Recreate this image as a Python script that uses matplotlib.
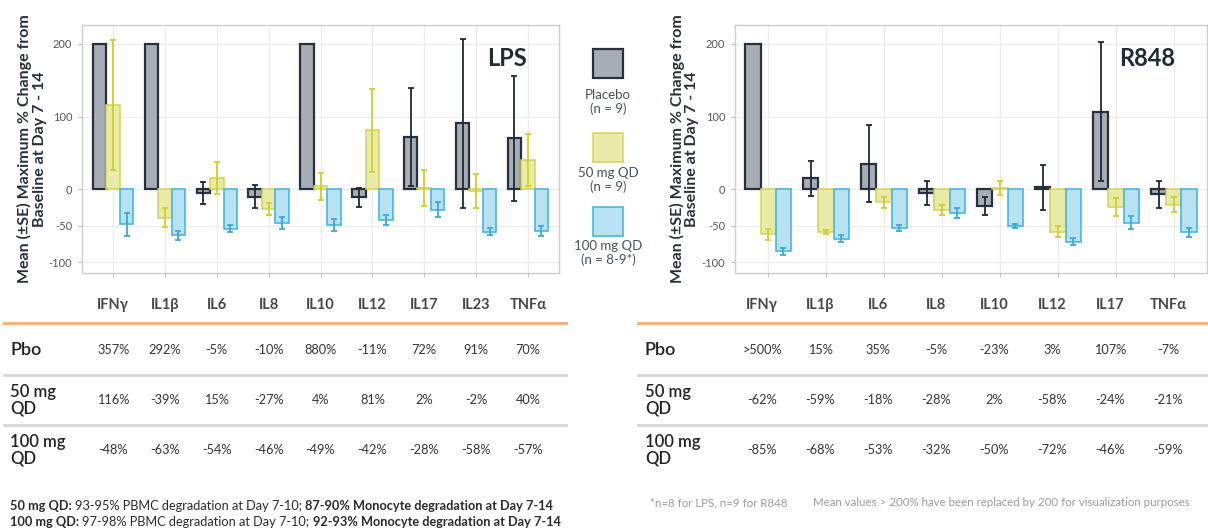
import numpy as np
import matplotlib
matplotlib.use("Agg")
import matplotlib.pyplot as plt
from matplotlib.patches import Rectangle
from matplotlib.lines import Line2D
from matplotlib.text import Annotation
from matplotlib.transforms import blended_transform_factory

plt.rcParams['font.family'] = ['Lato', 'DejaVu Sans']

# ---------------- data ----------------
lps_cytokines = ["IFNγ", "IL1β", "IL6", "IL8", "IL10", "IL12", "IL17", "IL23", "TNFα"]
lps_pbo = [357, 292, -5, -10, 880, -11, 72, 91, 70]
lps_50 = [116, -39, 15, -27, 4, 81, 2, -2, 40]
lps_100 = [-48, -63, -54, -46, -49, -42, -28, -58, -57]
lps_pbo_se = [np.nan, np.nan, 15, 16, np.nan, 13, 67, 116, 86]
lps_50_se = [90, 13, 22, 8, 18, 57, 25, 23, 36]
lps_100_se = [16, 6, 5, 8, 8, 7, 10, 5, 7]

r848_cytokines = ["IFNγ", "IL1β", "IL6", "IL8", "IL10", "IL12", "IL17", "TNFα"]
r848_pbo = [500, 15, 35, -5, -23, 3, 107, -7]
r848_pbo_lower_bound = [True, False, False, False, False, False, False, False]
r848_50 = [-62, -59, -18, -28, 2, -58, -24, -21]
r848_100 = [-85, -68, -53, -32, -50, -72, -46, -59]
r848_pbo_se = [np.nan, 24, 53, 16, 12, 31, 95, 19]
r848_50_se = [7, 3, 7, 7, 10, 7, 12, 10]
r848_100_se = [5, 5, 4, 7, 3, 5, 9, 6]

display_cap = 200
y_ticks = [-100, -50, 0, 100, 200]

groups = ["Placebo", "50 mg QD", "100 mg QD"]
group_n = ["(n = 9)", "(n = 9)", "(n = 8-9*)"]
row_labels = ["Pbo", "50 mg\nQD", "100 mg\nQD"]
fills = ["#A6ADB5", "#E9EAA8", "#B8E2F2"]
edges = ["#26313D", "#D3D450", "#48B6E0"]
err_colors = ["#1E2935", "#CFCF2E", "#3AA9D8"]
edge_widths = [1.6, 1.1, 1.2]

W, H = 1208, 532
fig = plt.figure(figsize=(W / 100, H / 100), dpi=100)


def px_axes(x0, y0, x1, y1):
    return fig.add_axes([x0 / W, 1 - y1 / H, (x1 - x0) / W, (y1 - y0) / H])


def fy(py):
    return 1 - py / H


def draw_panel(ax, cats, series, errs, title, xpad):
    x = np.arange(len(cats))
    width = 0.26
    offsets = [-width, 0, width]
    for i, (vals, se) in enumerate(zip(series, errs)):
        vals = np.asarray(vals, dtype=float)
        shown = np.minimum(vals, display_cap)
        se = np.asarray(se, dtype=float)
        ax.bar(x + offsets[i], shown, width, color=fills[i], edgecolor=edges[i],
               linewidth=edge_widths[i], zorder=3)
        m = ~np.isnan(se)
        ax.errorbar((x + offsets[i])[m], shown[m], yerr=se[m], fmt='none',
                    ecolor=err_colors[i], elinewidth=1.3, capsize=2.2,
                    capthick=1.3, zorder=4)
    ax.set_xlim(-xpad, len(cats) - 1 + xpad)
    ax.set_ylim(-115, 226)
    ax.set_yticks(y_ticks)
    ax.set_yticklabels([str(t) for t in y_ticks])
    ax.set_xticks(x)
    ax.set_xticklabels([])
    ax.tick_params(axis='both', length=3, width=0.8, color='#BBBBBB',
                   labelsize=8, labelcolor='#555555', pad=4)
    ax.grid(True, color='#EBEBEB', linewidth=0.9, zorder=0)
    ax.set_axisbelow(True)
    for s in ax.spines.values():
        s.set_color('#CCCCCC')
        s.set_linewidth(1.0)
    ax.set_ylabel("Mean (±SE) Maximum % Change from\nBaseline at Day 7 - 14",
                  fontsize=11.5, fontweight='bold', color='#25303C',
                  linespacing=1.05)
    ax.text(0.933, 0.863, title, transform=ax.transAxes, ha='right',
            va='center', fontsize=17, fontweight='bold', color='#1F2B38')


ax1 = px_axes(82, 25, 559, 273)
draw_panel(ax1, lps_cytokines, [lps_pbo, lps_50, lps_100],
           [lps_pbo_se, lps_50_se, lps_100_se], "LPS", 0.6)
ax1.yaxis.set_label_coords(-0.074, 0.5)

ax2 = px_axes(735, 25, 1207, 273)
draw_panel(ax2, r848_cytokines, [r848_pbo, r848_50, r848_100],
           [r848_pbo_se, r848_50_se, r848_100_se], "R848", 0.57)
ax2.yaxis.set_label_coords(-0.076, 0.5)

# ---------------- legend between panels ----------------
leg_x = 608
for i, (sq_top, txt_y) in enumerate([(49, 102), (133, 180), (207, 253)]):
    fig.add_artist(Rectangle(((leg_x - 15) / W, fy(sq_top + 29)), 30 / W, 29 / H,
                             transform=fig.transFigure, facecolor=fills[i],
                             edgecolor=edges[i], linewidth=edge_widths[i]))
    fig.text(leg_x / W, fy(txt_y), f"{groups[i]}\n{group_n[i]}", ha='center',
             va='center', fontsize=9.5, color='#46515C', linespacing=1.1)

# ---------------- summary tables ----------------
header_y, line_y = 305, 323
row_y = [350, 400, 450]
sep_y = [375, 425]


def fmt(v, lower_bound=False):
    return (">" if lower_bound else "") + f"{v}%"


def draw_table(ax, cats, series, flags, x_left, line_x0, line_x1, dx):
    tr = blended_transform_factory(ax.transData, fig.transFigure)
    x = np.arange(len(cats))
    for xi, c in zip(x, cats):
        fig.text(xi + dx, fy(header_y), c, transform=tr, ha='center', va='center',
                 fontsize=10.5, fontweight='bold', color='#474747')
    fig.add_artist(Line2D([line_x0 / W, line_x1 / W], [fy(line_y)] * 2,
                          transform=fig.transFigure, color='#F3B47E', linewidth=2.2))
    for yy in sep_y:
        fig.add_artist(Line2D([line_x0 / W, line_x1 / W], [fy(yy)] * 2,
                              transform=fig.transFigure, color='#D6D6D6', linewidth=2))
    for r, (vals, fl) in enumerate(zip(series, flags)):
        fig.text(x_left / W, fy(row_y[r]), row_labels[r], ha='left', va='center',
                 fontsize=13 if r == 0 else 12, color='#222222',
                 fontweight='semibold', linespacing=1.0)
        for xi, v, f in zip(x, vals, fl):
            fig.text(xi + dx, fy(row_y[r]), fmt(v, f), transform=tr, ha='center',
                     va='center', fontsize=9.2, color='#333333')


no_flags_lps = [False] * len(lps_cytokines)
no_flags_r848 = [False] * len(r848_cytokines)
draw_table(ax1, lps_cytokines, [lps_pbo, lps_50, lps_100],
           [no_flags_lps, no_flags_lps, no_flags_lps], 10, 4, 566, 0.0)
draw_table(ax2, r848_cytokines, [r848_pbo, r848_50, r848_100],
           [r848_pbo_lower_bound, no_flags_r848, no_flags_r848], 645, 638, 1208, -0.1)


# ---------------- footnotes ----------------
def rich_line(x, y, parts, size, color):
    prev = fig.text(x / W, fy(y), parts[0][0], ha='left', va='bottom', fontsize=size,
                    fontweight=parts[0][1], color=color)
    for txt, wt in parts[1:]:
        prev = fig.add_artist(Annotation(
            txt, xy=(1, 0), xycoords=prev, xytext=(2.4, 0),
            textcoords='offset points', ha='left', va='bottom', fontsize=size,
            fontweight=wt, color=color))


rich_line(10, 512, [("50 mg QD:", 'bold'),
                    ("93-95% PBMC degradation at Day 7-10;", 'normal'),
                    ("87-90% Monocyte degradation at Day 7-14", 'bold')], 9.2, '#2A2A2A')
rich_line(10, 528, [("100 mg QD:", 'bold'),
                    ("97-98% PBMC degradation at Day 7-10;", 'normal'),
                    ("92-93% Monocyte degradation at Day 7-14", 'bold')], 9.2, '#2A2A2A')

fig.text(650 / W, fy(503), "*n=8 for LPS, n=9 for R848", ha='left', va='center',
         fontsize=8.3, color='#9A9A9A')
fig.text(813 / W, fy(503),
         "Mean values > 200% have been replaced by 200 for visualization purposes",
         ha='left', va='center', fontsize=8.3, color='#9A9A9A')

fig.savefig("out.png", dpi=100, facecolor='white')
